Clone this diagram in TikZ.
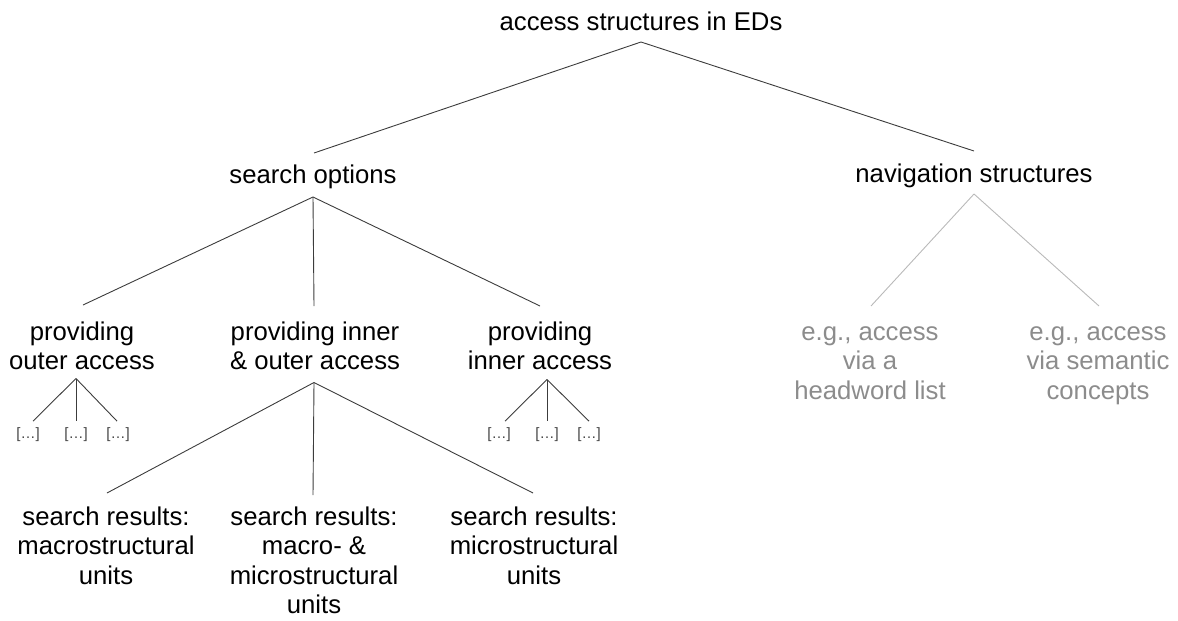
\documentclass[tikz,border=0pt]{standalone}
\usepackage{fontspec}
\setmainfont{Liberation Sans}
\definecolor{edge}{HTML}{3C3C3C}
\definecolor{lightedge}{HTML}{B9B9B9}
\definecolor{greytext}{HTML}{8C8C8C}
\definecolor{dots}{HTML}{444444}
% line strut: 20pt above the baseline, 6pt below
\newcommand\ls{\rule[-6pt]{0pt}{26pt}}
\tikzset{
  lbl/.style={inner sep=0pt, outer sep=0pt, anchor=north, align=center,
    font=\fontsize{25.7}{29.5}\selectfont},
  greylbl/.style={lbl, text=greytext},
  dotlbl/.style={inner sep=0pt, outer sep=0pt, anchor=base, text=dots,
    font=\fontsize{15}{18}\selectfont},
  link/.style={draw=edge, line width=0.9pt},
  lightlink/.style={draw=lightedge, line width=0.9pt}
}
\begin{document}
\begin{tikzpicture}[x=1pt, y=-1pt]
\useasboundingbox (0,0) rectangle (1178,621);

% labels (north = 20pt above the first baseline)
\node[lbl] (root) at (641,10) {\ls access structures in EDs\ls};
\node[lbl] (search) at (313,163) {\ls search options\ls};
\node[lbl] (nav) at (974,162) {\ls navigation structures\ls};

\node[lbl] (outer) at (82,320) {\ls providing\ls\\\ls outer access\ls};
\node[lbl] (both) at (315,320) {\ls providing inner\ls\\\ls \& outer access\ls};
\node[lbl] (inner) at (540,320) {\ls providing\ls\\\ls inner access\ls};

\node[greylbl] (hw) at (870,320) {\ls e.g., access\ls\\\ls via a\ls\\\ls headword list\ls};
\node[greylbl] (sem) at (1098,320) {\ls e.g., access\ls\\\ls via semantic\ls\\\ls concepts\ls};

\node[lbl] (rmac) at (106,505) {\ls search results:\ls\\\ls macrostructural\ls\\\ls units\ls};
\node[lbl] (rboth) at (314,505) {\ls search results:\ls\\\ls macro- \&\ls\\\ls microstructural\ls\\\ls units\ls};
\node[lbl] (rmic) at (534,505) {\ls search results:\ls\\\ls microstructural\ls\\\ls units\ls};

\node[dotlbl] (o1) at (28,438) {[…]};
\node[dotlbl] (o2) at (76,438) {[…]};
\node[dotlbl] (o3) at (118,438) {[…]};
\node[dotlbl] (i1) at (499,438) {[…]};
\node[dotlbl] (i2) at (547,438) {[…]};
\node[dotlbl] (i3) at (589,438) {[…]};

% branching points below the parent labels
\coordinate (root-b) at ([yshift=-6pt]root.south);
\coordinate (search-b) at ([yshift=-8pt]search.south);
\coordinate (nav-b) at ([yshift=-6pt]nav.south);
\coordinate (outer-b) at ([xshift=-6pt,yshift=-3pt]outer.south);
\coordinate (both-b) at ([xshift=-1pt,yshift=-7pt]both.south);
\coordinate (inner-b) at ([xshift=7pt,yshift=-4pt]inner.south);

% tree edges
\draw[link] (root-b) -- ([xshift=1pt,yshift=10pt]search.north);
\draw[link] (root-b) -- ([yshift=11pt]nav.north);

\draw[link] (search-b) -- ([xshift=1pt,yshift=15pt]outer.north);
\draw[link] (search-b) -- ([xshift=-1pt,yshift=14pt]both.north);
\draw[link] (search-b) -- ([yshift=14pt]inner.north);

\draw[lightlink] (nav-b) -- ([xshift=1pt,yshift=14pt]hw.north);
\draw[lightlink] (nav-b) -- ([xshift=1pt,yshift=14pt]sem.north);

\draw[link] (outer-b) -- ([xshift=5pt,yshift=6pt]o1.north);
\draw[link] (outer-b) -- ([yshift=6pt]o2.north);
\draw[link] (outer-b) -- ([xshift=-1pt,yshift=6pt]o3.north);

\draw[link] (inner-b) -- ([xshift=6pt,yshift=6pt]i1.north);
\draw[link] (inner-b) -- ([yshift=6pt]i2.north);
\draw[link] (inner-b) -- ([yshift=6pt]i3.north);

\draw[link] (both-b) -- ([xshift=1pt,yshift=12pt]rmac.north);
\draw[link] (both-b) -- ([xshift=-1pt,yshift=10pt]rboth.north);
\draw[link] (both-b) -- ([xshift=-1pt,yshift=12pt]rmic.north);
\end{tikzpicture}
\end{document}
